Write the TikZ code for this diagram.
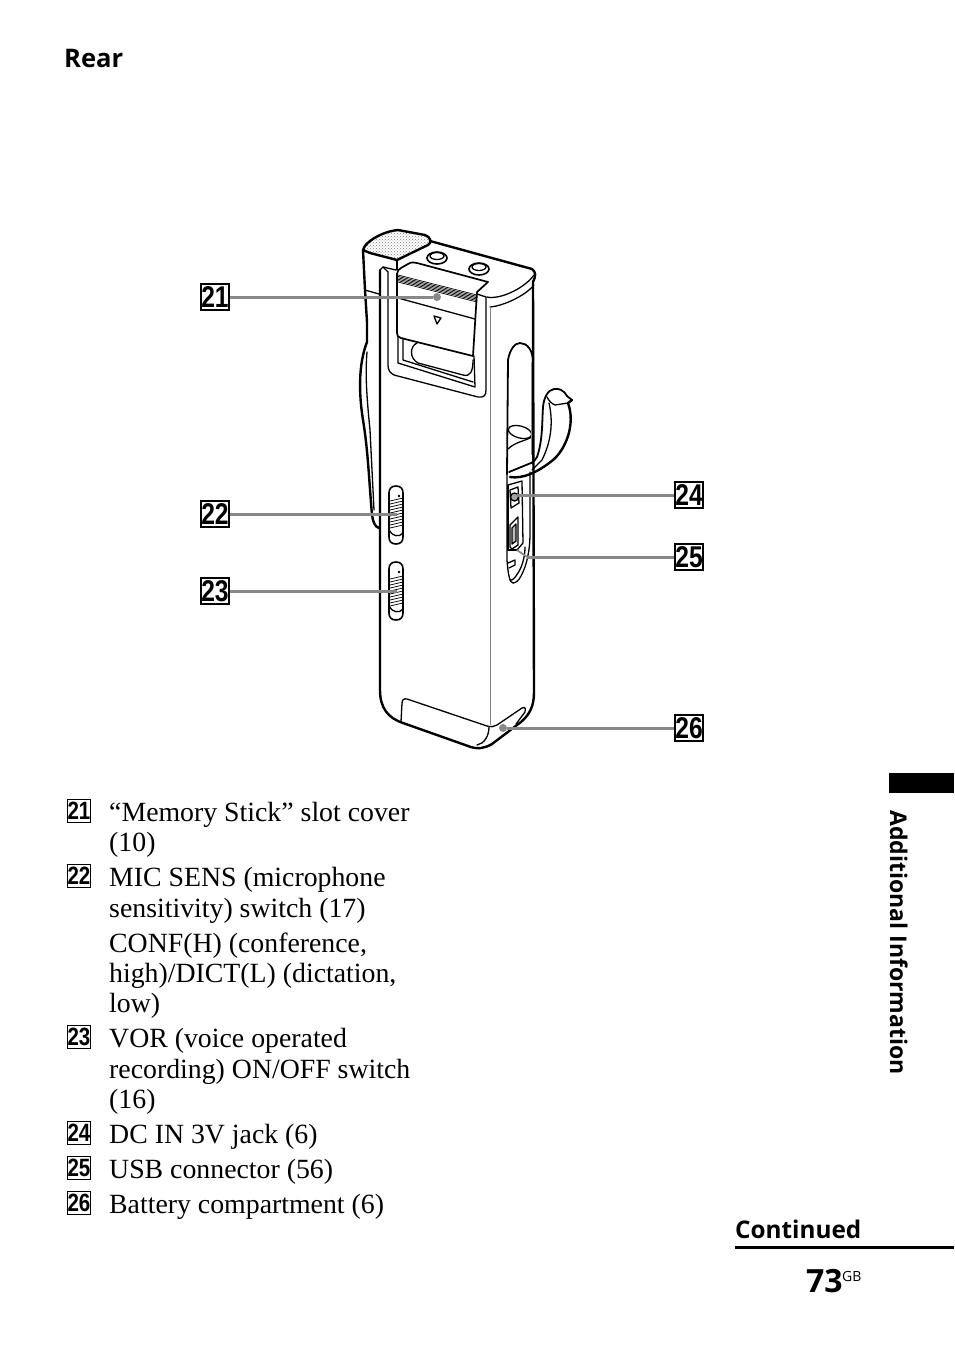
\documentclass[tikz,border=0pt]{standalone}
\usepackage{fontspec}
\setmainfont{Liberation Serif}
\newfontfamily\headfont{Open Sans}
\newfontfamily\numfont[FakeStretch=0.82]{Liberation Sans}
\usetikzlibrary{patterns, positioning}
\definecolor{leadgray}{RGB}{136,136,136}
\tikzset{
  numbig/.style={draw, line width=2pt, minimum width=27pt, minimum height=26pt, inner sep=0pt, font=\numfont\bfseries\fontsize{30}{30}\selectfont},
  numsmall/.style={draw, line width=1.5pt, minimum width=23pt, minimum height=23pt, inner sep=0pt, font=\numfont\bfseries\fontsize{25}{25}\selectfont},
  bodytext/.style={anchor=base west, inner sep=0pt, font=\fontsize{27.8}{30}\selectfont},
  headtext/.style={anchor=base west, inner sep=0pt, font=\headfont\bfseries\fontsize{24.3}{25}\selectfont},
  leader/.style={leadgray, line width=3pt},
  outline/.style={line width=2.4pt, line join=round, line cap=round},
  detail/.style={line width=1.3pt, line join=round, line cap=round},
  thin detail/.style={line width=0.7pt, line cap=round}
}
\begin{document}
\begin{tikzpicture}[x=1pt, y=-1pt]
    \useasboundingbox (0,0) rectangle (954,1345);

    % body
    \draw[outline] (380,270) -- (380,690) .. controls (380,708) and (388,718) .. (403,723)
        -- (468,746) .. controls (478,750) and (485,748) .. (492,744)
        -- (521,722) .. controls (530,714) and (534,706) .. (534,692)
        -- (533,282) .. controls (536,276) and (536,272) .. (532,269) -- (430,241);
    % microphone
    \draw[outline, pattern=crosshatch dots, pattern color=gray] (363,250) .. controls (365,245) and (367,243) .. (370,241)
        .. controls (378,235) and (388,231) .. (398,230)
        -- (425,235) .. controls (431,237) and (432,243) .. (428,245)
        -- (397,260) -- (370,253) -- cycle;
    \draw[outline] (363,250) -- (365,290) -- (367,322) -- (367,342);
    \draw[detail] (397,260) -- (397,270);
    % front edge
    \draw[detail] (365,290) -- (379,294);
    \draw[detail] (487,297) .. controls (500,300) and (525,288) .. (534,275);
    \draw[detail] (490,307) .. controls (503,306) and (525,296) .. (534,285);
    \draw[leadgray, line width=1pt] (490.5,307) -- (490.5,725);
    % jacks
    \draw[outline, line width=1.6pt] (437,258) ellipse (10 and 6);
    \draw[detail] (437,256) ellipse (7 and 3.5);
    \draw[outline, line width=1.6pt] (479,269) ellipse (10 and 6);
    \draw[detail] (479,267) ellipse (7 and 3.5);

    % slot frame and cover
    \draw[detail] (380,270) -- (383,267) -- (396,270);
    \draw[detail] (383,267) -- (388,272) -- (388,365) .. controls (388,370) and (390,373) .. (394,375)
        -- (478,397) .. controls (484,398) and (486,395) .. (486,390) -- (486,297) -- (477,294);
    \draw[outline, line width=1.7pt] (397,274) .. controls (397,271) and (399,269) .. (401,268) -- (408,264)
        .. controls (411,262) and (414,262) .. (417,263) -- (488,282) -- (477,292) -- (473,356) -- (401,338)
        .. controls (398,337) and (397,336) .. (397,333) -- cycle;
    \foreach \i in {0,1.4,2.8,4.2,5.6,7}
        \draw[thin detail] (398,275+\i) -- (477,295+\i);
    \draw[detail] (398,298) -- (475,319);
    \draw[detail] (434,316) -- (441,318) -- (437,324) -- cycle;
    \draw[detail] (398,336) -- (398,363) -- (475,387) -- (474,356);
    \draw[detail] (403,338) -- (403,360) -- (473,382);
    \draw[detail] (417,343) .. controls (410,346) and (409,358) .. (418,363)
        -- (463,375) .. controls (470,377) and (473,372) .. (473,360);

    % side recess and strap
    \draw[outline, line width=1.8pt] (507,474) -- (508,360) .. controls (510,349) and (515,343) .. (520,343)
        .. controls (527,343) and (533,350) .. (533,362) -- (533,460);
    \draw[detail, rotate around={-15:(520,432)}] (520,432) ellipse (12 and 6);
    \draw[detail] (508,449) .. controls (515,442) and (525,441) .. (532,437);
    \draw[leadgray, line width=0.8pt] (531,362) -- (531,455);
    \draw[outline] (510,477) .. controls (522,479) and (537,473) .. (553,460)
        .. controls (565,450) and (576,425) .. (568,403) -- (572,400);
    \draw[outline, line width=1.8pt] (572,400) -- (567,396) .. controls (564,390) and (558,388) .. (554,389)
        .. controls (548,390) and (544,397) .. (543,407) .. controls (542,420) and (543,440) .. (537,457)
        .. controls (535,460) and (534,462) .. (531,463) -- (509,472);
    \draw[detail] (547,397) .. controls (549,401) and (552,404) .. (555,405) -- (568,403);
    \draw[detail] (549,403) .. controls (553,420) and (552,440) .. (542,460) -- (532,470);
    \draw[detail] (507,474) -- (507,560) .. controls (508,575) and (510,583) .. (513,583)
        .. controls (516,583) and (519,580) .. (521,576) .. controls (527,565) and (530,550) .. (530,533) -- (530,472);
    \draw[detail] (508,485) -- (522,481) -- (523,543) -- (517,550);
    \draw[detail] (508,485) -- (508,550) -- (517,550);
    \draw[detail] (525,547) .. controls (525,557) and (522,567) .. (518,573) .. controls (515,578) and (512,581) .. (510,580);
    % dc jack
    \draw[detail] (510,490) -- (518,487) -- (519,503) -- (511,508) -- cycle;
    \draw[detail, fill=gray!70] (514.5,497) circle (4);
    % usb
    \draw[detail] (510,525) -- (518,517) -- (518,545) -- (512,549) -- (510,547) -- cycle;
    \draw[detail, fill=gray!50] (512,528) -- (516,524) -- (516,541) -- (512,544) -- cycle;
    \draw[detail] (508,563) -- (515,560) -- (515,565) -- (509,568);

    % left strap
    \draw[outline] (367,342) .. controls (358,365) and (359,395) .. (363,420)
        .. controls (368,450) and (369,480) .. (372,515) .. controls (373,522) and (375,527) .. (379,528);
    \draw[detail] (367,352) .. controls (365,375) and (367,400) .. (370,430) -- (374,510);

    % switches
    \draw[detail, line width=1.6pt] (389,493) .. controls (389,489) and (391,486) .. (396,486)
        .. controls (401,486) and (403,489) .. (403,493) -- (403,537)
        .. controls (403,541) and (401,544) .. (396,544) .. controls (391,544) and (389,541) .. (389,537) -- cycle;
    \draw[detail] (389,530) .. controls (392,536) and (399,538) .. (403,533);
    \fill (399,496) circle (1.3);
    \foreach \i in {501,504,...,530}
        \draw[thin detail] (390,\i) -- (403,\i-3);
    \draw[detail, line width=1.6pt] (389,569) .. controls (389,565) and (391,562) .. (396,562)
        .. controls (401,562) and (403,565) .. (403,569) -- (403,613)
        .. controls (403,617) and (401,620) .. (396,620) .. controls (391,620) and (389,617) .. (389,613) -- cycle;
    \draw[detail] (389,606) .. controls (392,612) and (399,614) .. (403,609);
    \fill (399,572) circle (1.3);
    \foreach \i in {579,582,...,606}
        \draw[thin detail] (390,\i) -- (403,\i-3);

    % battery lid
    \draw[detail] (401,722) -- (402,703) .. controls (402,700) and (404,698) .. (407,699)
        -- (487,726) .. controls (491,727) and (494,727) .. (497,725) -- (522,708) .. controls (526,706) and (526,710) .. (525,712) -- (516,724);
    \draw[detail] (489,727) .. controls (489,736) and (484,744) .. (477,745);

    % leaders
    \node[numbig] (n21) at (215,297) {21};
    \node[numbig] (n22) at (215,514) {22};
    \node[numbig] (n23) at (215,591) {23};
    \node[numbig] (n24) at (689,495) {24};
    \node[numbig] (n25) at (689,557) {25};
    \node[numbig] (n26) at (689,728) {26};
    \node[circle, fill=leadgray, inner sep=0pt, minimum size=8pt] (d21) at (437,297) {};
    \node[circle, fill=leadgray, inner sep=0pt, minimum size=8pt] (d26) at (503,728) {};
    \coordinate (c22) at (397,514);
    \coordinate (c23) at (397,591);
    \coordinate (c24) at (517,495);
    \coordinate (c25) at (527,557);
    \coordinate (c25b) at (517,550);
    \draw[leader] (n21) -- (d21);
    \draw[leader] (n22) -- (c22);
    \draw[leader] (n23) -- (c23);
    \draw[leader] (n24) -- (c24);
    \draw[leader] (n25) -- (c25);
    \draw[leader, line width=1.8pt] (c25) -- (c25b);
    \draw[leader] (n26) -- (d26);

    % page text
    \node[headtext, font=\headfont\bfseries\fontsize{25.6}{26}\selectfont] (rear) at (64,67) {Rear};

    \node[numsmall] (k21) at (79,811) {21};
    \node[numsmall] (k22) at (79,876) {22};
    \node[numsmall] (k23) at (79,1037) {23};
    \node[numsmall] (k24) at (79,1133) {24};
    \node[numsmall] (k25) at (79,1168) {25};
    \node[numsmall] (k26) at (79,1203) {26};

    \node[bodytext] (t1) at (109,821) {“Memory Stick” slot cover};
    \node[bodytext] (t2) at (109,851) {(10)};
    \node[bodytext] (t3) at (109,886) {MIC SENS (microphone};
    \node[bodytext] (t4) at (109,917) {sensitivity) switch (17)};
    \node[bodytext] (t5) at (109,952) {CONF(H) (conference,};
    \node[bodytext] (t6) at (109,982) {high)/DICT(L) (dictation,};
    \node[bodytext] (t7) at (109,1012) {low)};
    \node[bodytext] (t8) at (109,1047) {VOR (voice operated};
    \node[bodytext] (t9) at (109,1078) {recording) ON/OFF switch};
    \node[bodytext] (t10) at (109,1108) {(16)};
    \node[bodytext] (t11) at (109,1143) {DC IN 3V jack (6)};
    \node[bodytext] (t12) at (109,1178) {USB connector (56)};
    \node[bodytext] (t13) at (109,1213) {Battery compartment (6)};

    \node[fill=black, minimum width=65pt, minimum height=20pt, inner sep=0pt, anchor=north west] (tab) at (889,773) {};
    \node[headtext, rotate=-90, font=\headfont\bfseries\fontsize{23}{24}\selectfont] (side) at (890,810) {Additional Information};

    \node[headtext] (cont) at (735,1238) {Continued};
    \coordinate (r1) at (735,1247.5);
    \coordinate (r2) at (954,1247.5);
    \draw[line width=3pt] (r1) -- (r2);
    \node[headtext, font=\headfont\bfseries\fontsize{32}{33}\selectfont] (page) at (806,1292) {73};
    \node[headtext, font=\headfont\fontsize{14}{14}\selectfont] (gb) at (842,1281) {GB};
\end{tikzpicture}
\end{document}
